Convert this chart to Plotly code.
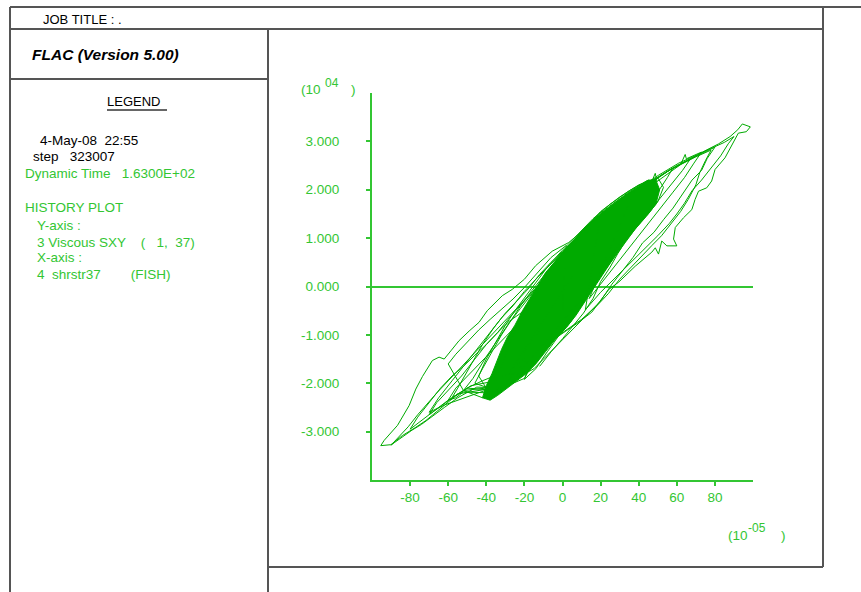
import plotly.graph_objects as go

# ---- FLAC history: 3 Viscous SXY (1,37) vs 4 shrstr37 (FISH) ----
# strain in units of 1e-5, stress in units of 1e4

# dense hysteresis core (outline of the many small cycles)
core_strain = [-42, -40, -37, -35, -32, -29, -25, -21, -17, -13, -9, -4, 2, 8, 14, 20, 27, 34, 40, 45, 49,
               51, 49, 44, 38, 32, 27, 22, 17, 12, 7, 2, -4, -9, -14, -19, -24, -29, -34, -38, -42]
core_stress = [-2.3, -2.05, -1.8, -1.6, -1.3, -1.05, -0.8, -0.5, -0.25, 0.02, 0.28, 0.52, 0.8, 1.05, 1.3, 1.5, 1.72, 1.93, 2.08, 2.2, 2.2,
               2.0, 1.7, 1.45, 1.18, 0.88, 0.6, 0.3, 0.0, -0.3, -0.6, -0.85, -1.1, -1.35, -1.6, -1.8, -1.95, -2.1, -2.25, -2.35, -2.3]

# large excursion towards negative strain
loop1_strain = [-5, -15, -25, -37.7, -42.1, -49, -56, -61.3, -66.5, -71.7, -77, -84, -90.1, -95.4, -93.6, -86.6,
                -80.5, -77, -73.5, -68.3, -64.8, -62.1, -58.6, -54.3, -49, -43.8, -39.5, -35.1, -31.6, -26.4,
                -20, -14.1, -5.4, 3.3, 12]
loop1_stress = [-1.1, -1.5, -1.8, -1.88, -1.95, -2.08, -2.26, -2.43, -2.60, -2.77, -2.91, -3.08, -3.27, -3.29, -3.18, -2.87,
                -2.46, -2.12, -1.86, -1.53, -1.46, -1.50, -1.33, -1.12, -0.92, -0.74, -0.50, -0.33, -0.19, -0.06,
                0.15, 0.43, 0.73, 0.91, 1.2]

# large excursion towards positive strain
loop2_strain = [19, 29.5, 40, 50.4, 61, 71, 82, 88, 92, 94.4, 98.6, 96.5, 92.3, 88.8, 85.3, 80.1, 78.3, 75.7, 71.4,
                69.6, 67.9, 63.5, 59.2, 58.3, 60, 54.8, 52.1, 50.4, 48.7, 46.9, 38.2, 29.5, 24.3, 15.4, 8.5, -1.9, -10]
loop2_stress = [1.49, 1.8, 2.02, 2.3, 2.55, 2.73, 2.95, 3.1, 3.24, 3.36, 3.30, 3.20, 3.17, 2.90, 2.66, 2.42, 2.18, 2.04, 1.97,
                1.80, 1.59, 1.42, 1.22, 0.98, 0.84, 0.84, 0.94, 0.67, 0.80, 0.71, 0.42, 0.09, -0.06, -0.53, -0.74, -1.02, -1.3]

loop3_strain = [-20, -32, -45, -55, -62, -68, -74, -79, -84, -88, -90, -86, -81, -76, -71, -66, -60, -54,
                -48, -42, -36, -30, -24, -18, -10]
loop3_stress = [-1.75, -2.1, -2.08, -2.3, -2.5, -2.68, -2.85, -2.97, -3.1, -3.22, -3.28, -3.12, -2.9, -2.65,
                -2.42, -2.2, -1.95, -1.7, -1.45, -1.2, -0.95, -0.7, -0.45, -0.2, 0.1]

loop4_strain = [-25, -35, -37.7, -36, -55, -63, -70, -66, -60, -53, -46, -40, -34, -28, -20]
loop4_stress = [-1.95, -2.2, -2.32, -2.1, -2.22, -2.45, -2.65, -2.4, -2.15, -1.85, -1.5, -1.2, -0.95, -0.65, -0.3]

loop5_strain = [15, 25, 35, 45, 55, 65, 75, 85, 90, 87, 83, 78, 73, 68, 64, 60, 56, 50, 44, 36, 28, 20, 12]
loop5_stress = [1.3, 1.62, 1.88, 2.13, 2.38, 2.6, 2.8, 2.98, 3.1, 2.95, 2.7, 2.45, 2.2, 1.98, 1.72, 1.5, 1.3,
                1.05, 0.82, 0.5, 0.2, -0.12, -0.48]

loop6_strain = [20, 35, 47.3, 48.7, 49.6, 62, 64.4, 65, 73, 69, 64, 58, 52, 46, 40, 34, 28, 22, 14]
loop6_stress = [1.5, 1.92, 2.21, 2.34, 2.17, 2.52, 2.73, 2.64, 2.78, 2.55, 2.25, 1.95, 1.65, 1.35, 1.05, 0.75, 0.45, 0.15, -0.25]

loop7_strain = [38, 50, 60, 67, 63, 57, 51, 45, 38, 31, 24, 16]
loop7_stress = [2.0, 2.25, 2.5, 2.63, 2.4, 2.1, 1.8, 1.52, 1.18, 0.8, 0.42, 0.0]

loop8_strain = [-30, -42, -52, -60, -56, -50, -44, -38, -32, -26, -20, -13, -6, 2]
loop8_stress = [-2.1, -2.3, -2.15, -1.6, -1.4, -1.15, -0.9, -0.68, -0.47, -0.26, -0.02, 0.3, 0.6, 0.85]

loop9_strain = [0, -20, -35, -50, -58, -55, -48, -42, -36, -30, -24, -18, -12, -6, 0, 6]
loop9_stress = [-0.5, -1.9, -2.15, -2.1, -2.3, -2.1, -1.6, -1.2, -0.85, -0.55, -0.3, -0.05, 0.25, 0.5, 0.72, 0.95]

loop10_strain = [-20, -40, -52, -47, -40, -34, -28, -22, -16, -10, -4]
loop10_stress = [-1.5, -2.1, -2.15, -1.9, -1.45, -1.1, -0.75, -0.45, -0.15, 0.15, 0.4]

loop11_strain = [-30, -62, -70, -65, -58, -50, -44, -38, -32, -26, -20, -14]
loop11_stress = [-2.0, -2.45, -2.6, -2.3, -1.95, -1.55, -1.25, -0.95, -0.65, -0.4, -0.1, 0.15]

loop12_strain = [10, 25, 40, 55, 70, 78, 75, 72, 70, 66, 62, 57, 52, 47, 42, 36, 30, 24, 18, 10, 2]
loop12_stress = [1.15, 1.62, 2.0, 2.38, 2.68, 2.82, 2.6, 2.35, 2.1, 1.8, 1.55, 1.3, 1.05, 0.85, 0.65, 0.4, 0.15,
                 -0.15, -0.4, -0.68, -0.9]

loop13_strain = [0, 30, 45, 58, 55, 50, 45, 40, 35, 30, 25, 20, 14, 8]
loop13_stress = [0.6, 1.78, 2.12, 2.45, 2.25, 1.95, 1.65, 1.4, 1.15, 0.9, 0.6, 0.3, 0.0, -0.35]

loop14_strain = [20, 42, 56, 68, 80, 76, 73, 68, 63, 58, 53, 48, 42, 37, 31, 26, 20]
loop14_stress = [1.5, 2.02, 2.4, 2.65, 2.88, 2.65, 2.4, 2.2, 1.9, 1.62, 1.38, 1.12, 0.9, 0.6, 0.3, 0.05, -0.3]

loop15_strain = [-15, -38, -52, -56, -60, -56, -51, -46, -41, -36, -30, -24]
loop15_stress = [-1.7, -2.2, -2.18, -2.3, -2.35, -2.1, -1.9, -1.7, -1.5, -1.3, -1.05, -0.8]

loop16_strain = [-35, -48, -60, -72, -80, -76, -70, -64, -58, -52, -46, -40, -34, -28]
loop16_stress = [-1.95, -2.05, -2.35, -2.7, -2.95, -2.7, -2.4, -2.1, -1.85, -1.65, -1.42, -1.2, -0.95, -0.72]

# cycles running just outside the dense core
loop17_strain = [5, -30, -40, -44, -40, -35, -30, -25, -19, -13, -7, 0, 8, 16, 25, 35, 45,
                 47, 42, 36, 30, 26, 22, 18, 14, 9, 4, -2, -8, -14, -20]
loop17_stress = [0.2, -1.9, -2.1, -1.85, -1.5, -1.15, -0.8, -0.5, -0.18, 0.15, 0.45, 0.75, 1.08, 1.4, 1.7, 1.98, 2.2,
                 1.9, 1.55, 1.3, 1.02, 0.75, 0.48, 0.2, -0.12, -0.45, -0.75, -1.02, -1.35, -1.7, -1.92]

loop18_strain = [-10, -35, -46, -42, -37, -32, -27, -22, -16, -10, -3, 4, 12, 20, 30, 40, 50,
                 53, 50, 45, 40, 34, 29, 25, 20, 16, 11, 5, 0, -6, -12]
loop18_stress = [-0.8, -2.15, -2.0, -1.7, -1.35, -1.0, -0.7, -0.4, -0.08, 0.2, 0.55, 0.85, 1.2, 1.55, 1.85, 2.1, 2.25,
                 2.05, 1.75, 1.5, 1.3, 1.0, 0.68, 0.4, 0.1, -0.25, -0.55, -0.85, -1.08, -1.35, -1.65]

x_ticks = [-80, -60, -40, -20, 0, 20, 40, 60, 80]
y_ticks = [-3, -2, -1, 0, 1, 2, 3]
y_tick_text = ["-3.000", "-2.000", "-1.000", "0.000", "1.000", "2.000", "3.000"]

W, H = 861, 592
GREEN = "#33c633"
DATA_GREEN = "#00aa00"
FRAME = "#555555"
FONT = "Liberation Sans, Arial, sans-serif"


def P(px, py):
    """page pixel -> paper fraction"""
    return px / W, 1 - py / H


strain_parts = [loop1_strain, loop2_strain, loop3_strain, loop4_strain, loop5_strain, loop6_strain,
                loop7_strain, loop8_strain, loop9_strain, loop12_strain, loop10_strain, loop13_strain,
                loop11_strain, loop14_strain, loop15_strain, loop16_strain, loop17_strain, loop18_strain]
stress_parts = [loop1_stress, loop2_stress, loop3_stress, loop4_stress, loop5_stress, loop6_stress,
                loop7_stress, loop8_stress, loop9_stress, loop12_stress, loop10_stress, loop13_stress,
                loop11_stress, loop14_stress, loop15_stress, loop16_stress, loop17_stress, loop18_stress]
history_strain = [v for part in strain_parts for v in part]
history_stress = [v for part in stress_parts for v in part]

fig = go.Figure()
fig.add_trace(go.Scatter(x=core_strain, y=core_stress, mode="lines", fill="toself",
                         fillcolor=DATA_GREEN, line=dict(color=DATA_GREEN, width=1),
                         hoverinfo="skip", showlegend=False))
fig.add_trace(go.Scatter(x=history_strain, y=history_stress, mode="lines",
                         line=dict(color=DATA_GREEN, width=1), showlegend=False))

x0, y1 = P(372, 93)
x1, y0 = P(753, 480)

fig.update_layout(
    width=W, height=H,
    margin=dict(l=0, r=0, t=0, b=0, pad=0),
    paper_bgcolor="white", plot_bgcolor="white",
    font=dict(family=FONT, color=GREEN, size=13),
    xaxis=dict(domain=[x0, x1], range=[-100, 100], showgrid=False, zeroline=False,
               showline=True, linecolor=GREEN, linewidth=2,
               ticks="outside", ticklen=4, tickcolor=GREEN, tickwidth=1.5,
               tickvals=x_ticks, ticktext=[str(v) for v in x_ticks],
               tickfont=dict(size=13.5, color=GREEN, family=FONT)),
    yaxis=dict(domain=[y0, y1], range=[-4, 4], showgrid=False,
               zeroline=True, zerolinecolor=GREEN, zerolinewidth=1.5,
               showline=True, linecolor=GREEN, linewidth=2,
               ticks="outside", ticklen=4, tickcolor=GREEN, tickwidth=1.5,
               tickvals=y_ticks, ticktext=y_tick_text, ticklabelstandoff=24,
               tickfont=dict(size=13.5, color=GREEN, family=FONT)),
)

# page frame
frame_lines = [
    (10, 7, 861, 7), (10, 7, 10, 592), (10, 29, 823, 29), (823, 7, 823, 567),
    (268, 29, 268, 592), (10, 79, 268, 79), (268, 567, 823, 567),
]
for ax, ay, bx, by in frame_lines:
    xa, ya = P(ax, ay)
    xb, yb = P(bx, by)
    fig.add_shape(type="line", xref="paper", yref="paper", x0=xa, y0=ya, x1=xb, y1=yb,
                  line=dict(color=FRAME, width=2))

# LEGEND underline
ua, uy = P(107, 110)
ub, _ = P(167, 110)
fig.add_shape(type="line", xref="paper", yref="paper", x0=ua, y0=uy, x1=ub, y1=uy,
              line=dict(color="#333333", width=1.5))


def text(s, px, py, color="black", size=13.5, anchor="left", **kw):
    tx, ty = P(px, py)
    fig.add_annotation(text=s, x=tx, y=ty, xref="paper", yref="paper", showarrow=False,
                       xanchor=anchor, yanchor="middle", borderpad=0,
                       font=dict(family=FONT, size=size, color=color), **kw)


text("JOB TITLE : .", 42, 19, size=13)
text("<b><i>FLAC (Version 5.00)</i></b>", 31, 54, size=15.5)
text("LEGEND", 106, 102, size=13)
text("4-May-08  22:55", 39, 140)
text("step   323007", 32, 157)
text("Dynamic Time   1.6300E+02", 24, 173, color=GREEN)
text("HISTORY PLOT", 24, 208, color=GREEN)
text("Y-axis :", 36, 225, color=GREEN)
text("3 Viscous SXY    (   1,  37)", 36, 242, color=GREEN)
text("X-axis :", 36, 258, color=GREEN)
text("4  shrstr37        (FISH)", 36, 275, color=GREEN)

# axis multipliers
text("(10", 300, 90, color=GREEN, size=13.5)
text("04", 324, 83, color=GREEN, size=12)
text(")", 350, 90, color=GREEN, size=13.5)
text("(10", 727, 535, color=GREEN, size=13.5)
text("-05", 747, 528, color=GREEN, size=12)
text(")", 780, 535, color=GREEN, size=13.5)

fig.write_html("out.html")
